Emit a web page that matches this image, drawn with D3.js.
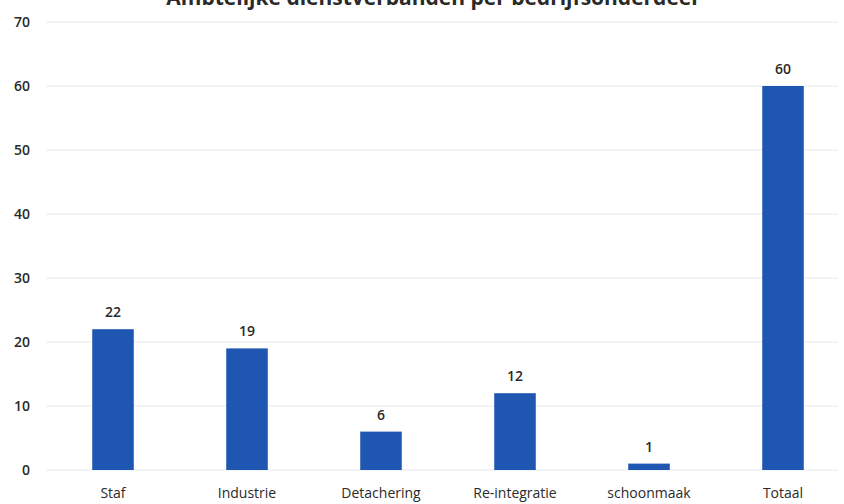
<!DOCTYPE html>
<html><head><meta charset="utf-8">
<script src="https://cdn.jsdelivr.net/npm/d3@7"></script>
<style>body{margin:0;background:#fff}svg{display:block}text{font-family:"Open Sans",Lato,sans-serif}</style>
</head><body>
<svg id="c" width="844" height="504"></svg>
<script>
const title = "Ambtelijke dienstverbanden per bedrijfsonderdeel";
const categories = ["Staf","Industrie","Detachering","Re-integratie","schoonmaak","Totaal"];
const values = [22,19,6,12,1,60];
const yTicks = [0,10,20,30,40,50,60,70];

const svg = d3.select("#c");
const x = d3.scaleBand().domain(categories).range([46,850]).paddingInner(0.69).paddingOuter(0.345);
const y = d3.scaleLinear().domain([0,70]).range([470,22]);

svg.append("g").selectAll("line").data(yTicks).join("line")
  .attr("x1",46).attr("x2",838).attr("y1",d=>y(d)).attr("y2",d=>y(d))
  .attr("stroke","#e6e9ee").attr("stroke-width",1.2);

svg.append("g").selectAll("text").data(yTicks).join("text")
  .attr("x",30).attr("y",d=>y(d)).attr("dy","0.35em").attr("text-anchor","end")
  .attr("font-size",14).attr("font-weight",600).attr("fill","#2a2a2a").text(d=>d);

svg.append("g").selectAll("rect").data(values).join("rect")
  .attr("x",(d,i)=>x(categories[i])).attr("width",x.bandwidth())
  .attr("y",d=>y(d)).attr("height",d=>y(0)-y(d)).attr("fill","#1f56b2");

svg.append("g").selectAll("text").data(values).join("text")
  .attr("x",(d,i)=>x(categories[i])+x.bandwidth()/2).attr("y",d=>y(d)-12)
  .attr("text-anchor","middle").attr("font-size",14).attr("font-weight",600).attr("fill","#2a2a2a").text(d=>d);

svg.append("g").selectAll("text").data(categories).join("text")
  .attr("x",d=>x(d)+x.bandwidth()/2).attr("y",498)
  .attr("text-anchor","middle").attr("font-size",14).attr("font-weight",500).attr("fill","#2a2a2a").text(d=>d);

svg.append("text").attr("x",432).attr("y",5).attr("text-anchor","middle")
  .attr("font-size",21).attr("font-weight",700).attr("fill","#2a2a2a").text(title);
</script>
</body></html>
